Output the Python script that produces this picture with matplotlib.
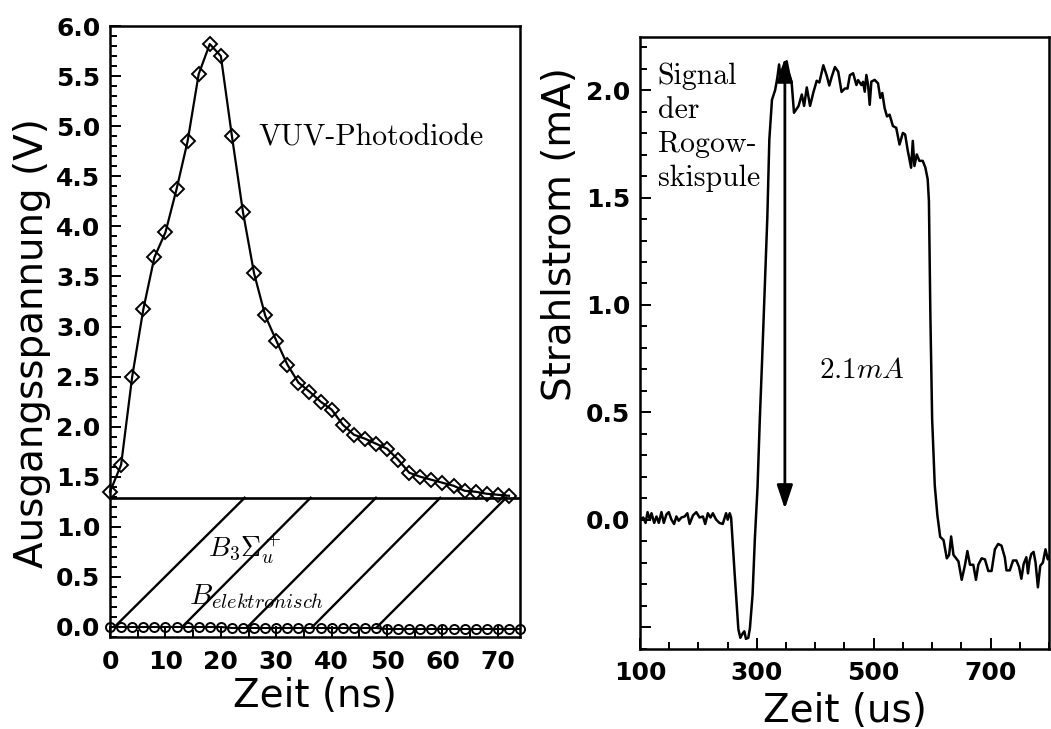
import matplotlib
matplotlib.use("Agg")
import matplotlib.pyplot as plt
from matplotlib.ticker import MultipleLocator, FixedLocator, FuncFormatter

plt.rcParams['mathtext.fontset'] = 'cm'
plt.rcParams['font.family'] = ['DejaVu Sans']
plt.rcParams['font.weight'] = 'bold'

# ---------------- left panel: VUV photodiode ----------------
t_ns = [0, 2, 4, 6, 8, 10, 12, 14, 16, 18, 20, 22, 24, 26, 28, 30, 32, 34, 36,
        38, 40, 42, 44, 46, 48, 50, 52, 54, 56, 58, 60, 62, 64, 66, 68, 70, 72]
photodiode_V = [1.35, 1.62, 2.50, 3.17, 3.69, 3.94, 4.37, 4.85, 5.52, 5.82,
                5.70, 4.90, 4.14, 3.53, 3.11, 2.86, 2.62, 2.44, 2.35, 2.25,
                2.17, 2.02, 1.92, 1.88, 1.83, 1.78, 1.67, 1.54, 1.50, 1.47,
                1.44, 1.41, 1.36, 1.35, 1.33, 1.32, 1.31]

t_elec_ns = [0, 2, 4, 6, 8, 10, 12, 14, 16, 18, 20, 22, 24, 26, 28, 30, 32, 34,
             36, 38, 40, 42, 44, 46, 48, 50, 52, 54, 56, 58, 60, 62, 64, 66, 68,
             70, 72, 74]
electronic_V = [0.00, 0.00, 0.00, 0.00, 0.00, 0.00, 0.00, 0.00, 0.00, 0.00,
                0.00, -0.01, -0.01, -0.01, -0.01, -0.01, -0.01, -0.01, -0.01,
                -0.01, -0.01, -0.01, -0.01, -0.01, -0.01, -0.02, -0.02, -0.02,
                -0.02, -0.02, -0.02, -0.02, -0.02, -0.02, -0.02, -0.02, -0.02,
                -0.02]

baseline_V = 1.29
hatch_floor_V = 0.0
hatch_start_ns = [0.8, 13.0, 24.8, 36.5, 48.2]
hatch_end_ns = [24.3, 36.2, 48.0, 59.6, 71.5]

# ---------------- right panel: Rogowski coil signal ----------------
t_us = [100, 105.7, 109.6, 113, 117, 119.8, 124.4, 128.3, 132.3, 136.8, 140.8,
        145.4, 149.3, 153.9, 158.4, 162.4, 166.3, 170.9, 176.5, 181.1, 185,
        190.7, 196.4, 202, 207.7, 211.7, 216.2, 220.7, 224.7, 230.4, 236,
        241.7, 247.4, 250.2, 253.6, 256,
        262, 268.4, 271.8, 275.7, 278.6, 281.4, 285.4, 288.2, 292.7, 296.7,
        301.2, 305, 309, 314, 318, 321.4, 325.9, 331.3, 335.2, 338.1, 340.8,
        344.2, 348, 351, 355, 359.6, 363.6,
        371.3, 377, 380.9, 385.5, 391.1, 396.8, 402.5, 407, 413.8, 419.5, 424,
        428, 433.7, 439.3, 445, 450.7, 455.2, 459.2, 464.8, 470.5, 473.3, 479,
        481.8, 484.7, 487.5, 490.4, 493.2, 496, 501.7, 507.4, 511.3, 514.7,
        518.7, 522.7, 527.2, 532.9, 538.5, 544.2, 549.9, 553.8, 558.4, 564,
        566.9, 569.7, 573.7, 578.2, 583.9, 588.4, 592.4, 594.5,
        597, 600, 604.5, 609, 613.8, 619.5, 625.1, 629.1, 632.5, 636.5, 641, 645,
        650.6, 656.3, 660.3, 664.8, 670.5, 675, 679, 684.7, 690.4, 696.1,
        701.7, 707.4, 713, 718.7, 724.4, 727.2, 732.9, 738.5, 744.2, 748.7,
        752.7, 756.7, 761.2, 764, 766.8, 769.7, 773.6, 777, 781, 785, 789.5,
        794, 798, 800]
beam_mA = [0.00, 0.01, -0.015, 0.035, 0.00, 0.03, -0.015, 0.015, -0.015, 0.035,
           -0.015, 0.025, 0.035, 0.00, -0.02, 0.015, -0.005, 0.01, 0.015, 0.03,
           -0.02, 0.02, 0.035, 0.01, 0.015, -0.02, 0.03, 0.01, 0.03, 0.00,
           -0.015, -0.02, 0.03, 0.00, 0.03, 0.01,
           -0.25, -0.51, -0.55, -0.53, -0.52, -0.555, -0.55, -0.505, -0.35,
           -0.085, 0.15, 0.46, 0.74, 1.11, 1.41, 1.77, 1.955, 2.00, 2.06, 2.12,
           2.05, 2.10, 2.12, 2.135, 2.08, 2.035, 1.895,
           1.926, 1.98, 1.927, 2.013, 1.927, 1.99, 2.044, 2.036, 2.116, 2.069,
           2.022, 2.061, 2.108, 2.086, 1.992, 2.008, 2.008, 2.07, 2.079, 2.024,
           2.047, 2.024, 2.039, 1.993, 2.071, 2.024, 1.932, 2.04, 2.048, 2.032,
           1.964, 1.987, 1.917, 1.878, 1.886, 1.833, 1.825, 1.747, 1.801,
           1.794, 1.717, 1.639, 1.764, 1.647, 1.701, 1.671, 1.671, 1.64, 1.585,
           1.484,
           0.95, 0.47, 0.16, 0.02, -0.08, -0.095, -0.18, -0.164, -0.078, -0.164,
           -0.18, -0.194, -0.28, -0.21, -0.146, -0.21, -0.21, -0.28, -0.21,
           -0.18, -0.185, -0.239, -0.239, -0.138, -0.113, -0.121, -0.176,
           -0.236, -0.236, -0.19, -0.19, -0.22, -0.275, -0.205, -0.175, -0.25,
           -0.19, -0.16, -0.15, -0.2, -0.315, -0.215, -0.2, -0.138, -0.185,
           -0.17]

arrow_t_us = 348
arrow_base_mA = 0.05
arrow_span_mA = 2.1

right_yticks = [-0.5, 0.0, 0.5, 1.0, 1.5, 2.0]
right_xticks = [100, 300, 500, 700]

LABEL_SIZE = 28
TICK_SIZE = 18
SERIF = 'cmr10'

fig = plt.figure(figsize=(10.51, 7.29), dpi=100)
axL = fig.add_axes([0.1047, 0.1262, 0.3901, 0.8381])
axR = fig.add_axes([0.6089, 0.1104, 0.3892, 0.8395])

# left panel marks
axL.plot(t_ns, photodiode_V, '-', color='black', lw=1.6, marker='D', ms=7,
         mfc='none', mec='black', mew=1.4, zorder=3, clip_on=False)
axL.plot(t_elec_ns, electronic_V, '-', color='black', lw=1.5, marker='o',
         ms=6.5, mfc='none', mec='black', mew=1.4, zorder=3, clip_on=False)
axL.axhline(baseline_V, color='black', lw=1.9)
for start, end in zip(hatch_start_ns, hatch_end_ns):
    axL.plot([start, end], [hatch_floor_V, baseline_V], color='black', lw=1.7)

axL.set_xlim(0, 74)
axL.set_ylim(-0.1, 6.0)
axL.xaxis.set_major_locator(MultipleLocator(10))
axL.xaxis.set_minor_locator(MultipleLocator(5))
axL.yaxis.set_major_locator(MultipleLocator(0.5))
axL.yaxis.set_minor_locator(MultipleLocator(0.1))
axL.yaxis.set_major_formatter(FuncFormatter(lambda v, p: f'{v:.1f}'))
axL.xaxis.set_major_formatter(FuncFormatter(lambda v, p: f'{v:.0f}'))

axL.text(26.8, 4.81, 'VUV-Photodiode', family=SERIF, fontsize=21.5,
         fontweight='normal', va='baseline')
axL.text(17.7, 0.70, r'$B_3\Sigma_u^+$', fontsize=20, va='baseline')
axL.text(14.2, 0.23, r'$B_{elektronisch}$', fontsize=21, va='baseline')

axL.set_xlabel('Zeit (ns)', fontsize=LABEL_SIZE, fontweight='normal')
axL.set_ylabel('Ausgangsspannung (V)', fontsize=LABEL_SIZE, fontweight='normal')
axL.xaxis.set_label_coords(0.5, -0.065)
axL.yaxis.set_label_coords(-0.144, 0.481)

# right panel marks
axR.plot(t_us, beam_mA, color='black', lw=1.8)
axR.annotate('', xy=(arrow_t_us, arrow_base_mA + arrow_span_mA),
             xytext=(arrow_t_us, arrow_base_mA),
             arrowprops=dict(arrowstyle='<|-|>,head_length=0.9,head_width=0.3',
                             color='black', lw=2.0, mutation_scale=16,
                             shrinkA=0, shrinkB=0))
axR.text(407, 0.66, rf'${arrow_span_mA:.1f}mA$', fontsize=21, va='baseline')
axR.text(130.5, 2.127, 'Signal\nder\nRogow-\nskispule', family=SERIF,
         fontsize=21.5, fontweight='normal', va='top', linespacing=1.3)

axR.set_xlim(100, 800)
axR.set_ylim(-0.6, 2.25)
axR.xaxis.set_major_locator(FixedLocator(right_xticks))
axR.xaxis.set_minor_locator(MultipleLocator(50))
axR.yaxis.set_major_locator(FixedLocator(right_yticks))
axR.yaxis.set_minor_locator(MultipleLocator(0.1))
axR.yaxis.set_major_formatter(FuncFormatter(lambda v, p: '' if v < 0 else f'{v:.1f}'))
axR.xaxis.set_major_formatter(FuncFormatter(lambda v, p: f'{v:.0f}'))

axR.set_xlabel('Zeit (us)', fontsize=LABEL_SIZE, fontweight='normal')
axR.set_ylabel('Strahlstrom (mA)', fontsize=LABEL_SIZE, fontweight='normal')
axR.xaxis.set_label_coords(0.5, -0.071)
axR.yaxis.set_label_coords(-0.149, 0.677)

for ax in (axL, axR):
    for side in ax.spines.values():
        side.set_linewidth(1.8)
    ax.tick_params(which='both', direction='in', top=False, right=False,
                   width=1.4, labelsize=TICK_SIZE)
    ax.tick_params(which='major', length=8)
    ax.tick_params(which='minor', length=5)
    ax.tick_params(axis='y', which='major', pad=7)
    ax.tick_params(axis='x', which='major', pad=9)

fig.savefig('out.png', dpi=100)
